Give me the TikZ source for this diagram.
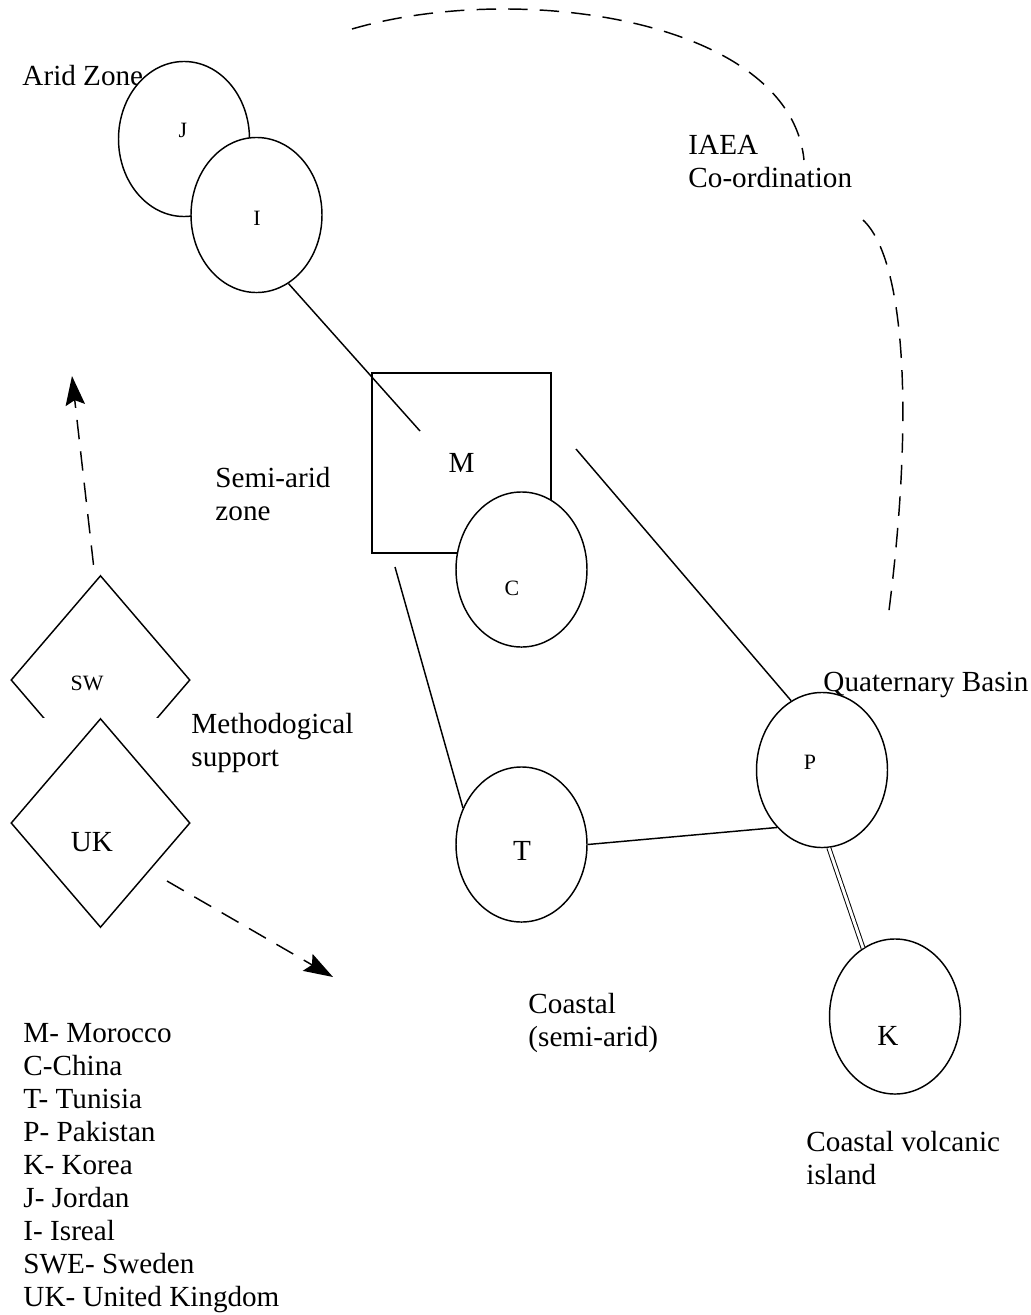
\documentclass[tikz,border=0pt]{standalone}
\usepackage{fontspec}
\setmainfont{Liberation Serif}
\usetikzlibrary{shapes.geometric, arrows.meta, positioning}

\tikzset{
  basin/.style={ellipse, draw, fill=white, line width=0.6pt, minimum width=53.9pt, minimum height=63.8pt, inner sep=0pt},
  kite/.style={diamond, draw, fill=white, line width=0.6pt, minimum width=73.7pt, minimum height=86pt, inner sep=0pt},
  link/.style={line width=0.6pt},
  coord/.style={line width=0.6pt, dash pattern=on 8pt off 5pt},
  tip/.style={-{Stealth[length=12pt, width=8pt, inset=2pt]}},
  small/.style={font=\fontsize{9}{10}\selectfont},
  note/.style={anchor=north west, align=left, inner sep=0pt},
}

\begin{document}
\begin{tikzpicture}[x=0.4115pt, y=-0.4115pt, font=\fontsize{12}{13.6}\selectfont]
        \useasboundingbox (0,0) rectangle (1031,1315);
        % IAEA co-ordination arc
        \draw[coord] (352,29) .. controls (520,-20) and (790,20) .. (804,160);
        \draw[coord] (863,220) .. controls (906,260) and (914,420) .. (888,618);
        \node[note] (iaea) at (688,135) {IAEA\\Co-ordination};
        % Arid zone
        \node[note] (arid) at (22,65) {Arid Zone};
        \node[basin] (J) at (184,139) {};
        \node[basin] (I) at (256.5,215) {};
        \node[small] (lJ) at (183,130) {J};
        \node[small] (lI) at (257,218) {I};
        % Semi-arid zone
        \node[note] (semi) at (215,467) {Semi-arid\\zone};
        \node[draw, link, minimum width=73.7pt, minimum height=74.1pt] (M) at (461.5,463) {M};
        \node[basin] (C) at (521.5,569.5) {};
        \node[small] (lC) at (512,588) {C};
        % Coastal and basin sites
        \node[note] (quat) at (823,672) {Quaternary Basin};
        \node[basin] (P) at (822,770) {};
        \node[small] (lP) at (810,762) {P};
        \node[basin] (T) at (521.5,844.5) {};
        \node (lT) at (522,851) {T};
        \node[basin] (K) at (895,1016.5) {};
        \node (lK) at (888,1036) {K};
        \node[note] (coast) at (528,993) {Coastal\\(semi-arid)};
        \node[note] (volc) at (806,1131) {Coastal volcanic\\island};
        % Lines between sites
        \coordinate (m1) at (420,431);
        \coordinate (m2) at (576,449);
        \coordinate (m3) at (395,567);
        \draw[link] (I.-65) -- (m1);
        \draw[link] (m2) -- (P.114);
        \draw[link] (m3) -- (T.148);
        \draw[link] (T.east) -- (P.232);
        \draw[line width=0.4pt, double, double distance=1.2pt] (P.275) -- (K.115);
        % Methodological support
        \begin{scope}
          \clip (0,0) rectangle (400,717);
          \node[kite] (SW) at (100.5,680) {};
        \end{scope}
        \node[kite] (UK) at (100.5,823) {};
        \node[small] (lSW) at (87,683) {SW};
        \node (lUK) at (92,842) {UK};
        \node[note] (meth) at (191,713) {Methodogical\\support};
        \coordinate (upTip) at (72,376);
        \coordinate (ukTail) at (167,881);
        \coordinate (downTip) at (333,977);
        \draw[coord, tip] ([shift={(-7,-10)}]SW.north) -- (upTip);
        \draw[coord, tip] (ukTail) -- (downTip);
        % Legend
        \node[note] (legend) at (23,1023) {M- Morocco\\C-China\\T- Tunisia\\P- Pakistan\\K- Korea\\J- Jordan\\I- Isreal\\SWE- Sweden\\UK- United Kingdom};
\end{tikzpicture}
\end{document}
